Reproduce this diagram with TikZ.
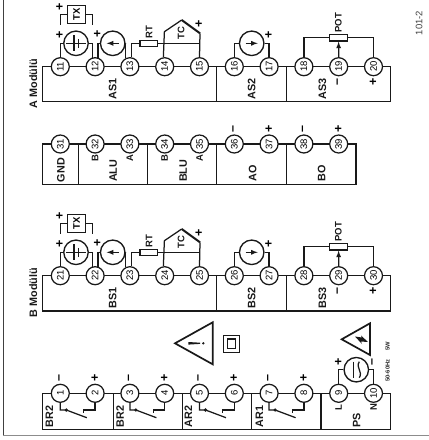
\documentclass[tikz,border=0pt]{standalone}
\usepackage{fontspec}
\setmainfont{Liberation Sans}
\usetikzlibrary{positioning}

\begin{document}
\begin{tikzpicture}[x=1pt,y=-1pt,
  wire/.style={draw=black!90,line width=1.25pt},
  term/.style={draw=black!90,line width=1.25pt,circle,fill=white,inner sep=0pt,minimum size=18pt,rotate=90,font=\fontsize{9.5}{9.5}\selectfont},
  lab/.style={rotate=90,inner sep=0pt,font=\fontsize{10.8}{10.8}\selectfont\bfseries,text=black!90},
  tiny/.style={rotate=90,inner sep=0pt,font=\fontsize{9.5}{9.5}\selectfont\bfseries,text=black!90},
  sign/.style={rotate=90,inner sep=0pt,font=\fontsize{12.5}{12.5}\selectfont\bfseries,text=black},
  part/.style={draw=black!90,line width=1.25pt,fill=white,rectangle,inner sep=0pt},
  src/.style={draw=black!90,line width=1.35pt,circle,fill=white,inner sep=0pt,minimum size=24.5pt}]
\useasboundingbox (0,0) rectangle (429,440);
% frame
\draw[black!75,line width=.9pt] (3.7,0) -- (3.7,435.7);
\draw[black!45,line width=1.3pt] (3.3,435.7) -- (429,435.7);
\node[rotate=90,inner sep=0pt,font=\fontsize{9.5}{9.5}\selectfont,text=black!75] (code) at (419,23) {101-2};

% boxes
\foreach \xa/\xb/\ya/\yb in {42.7/216.5/66.7/101.7,216.5/286.3/66.7/101.7,286.3/390.7/66.7/101.7,
  42.7/78.3/144/184.3,78.3/147.7/144/184.3,147.7/216.5/144/184.3,216.5/286.3/144/184.3,286.3/356/144/184.3,
  42.7/216.5/275.7/311,216.5/286.3/275.7/311,286.3/390.7/275.7/311,
  42.7/113.3/393.3/429.3,113.3/182.3/393.3/429.3,182.3/251.7/393.3/429.3,251.7/321/393.3/429.3,321/390.7/393.3/429.3} {
  \draw[wire] (\xa,\ya) rectangle (\xb,\yb);
}
% terminals
\foreach \m/\f/\y/\k in {A/11/66.7/10,C/31/144/9,B/21/275.7/10,P/1/393.3/10} {
  \foreach \i in {1,...,\k} {
    \pgfmathtruncatemacro\n{\f+\i-1}
    \node[term] (\m\i) at (25.5+34.8*\i,\y) {\n};
  }
}
% box labels
\foreach \t/\x/\y in {AS1/112.7/89,AS2/251.7/89,AS3/322.3/89,GND/61/170,ALU/113.3/170.7,BLU/183.3/170.7,AO/252.7/173,BO/321.7/173,
  BS1/112.7/298,BS2/251.7/298,BS3/322.3/298,BR2/49.3/416.7,BR2/120/416.7,AR2/188.3/416.7,AR1/259.3/416.7,PS/356.7/420} {
  \node[lab] (L\t\x) at (\x,\y) {\t};
}
\node[lab] (modA) at (33.3,83.7) {A Modülü};
\node[lab] (modB) at (33.3,292.7) {B Modülü};
\foreach \t/\s/\e in {B/C2/-14,A/C3/-14,B/C4/-14,A/C5/-14,L/P9/-14,N/P10/-14} {
  \node[tiny] (L\s) at ([yshift=\e]\s.center) {\t};
}
% signs
\foreach \t/\s/\e in {–/C6/15,+/C7/15,–/C8/15,+/C9/15,–/P1/15,+/P2/15,–/P3/15,+/P4/15,–/P5/15,+/P6/15,–/P7/15,+/P8/15,
  –/A9/-15,+/A10/-15,–/B9/-15,+/B10/-15} {
  \node[sign] (S\s) at ([yshift=\e]\s.center) {\t};
}

% inputs of both modules
\foreach \m/\d in {A/0,B/209} {
  \begin{scope}[yshift=-\d pt]
    \node[part,rotate=90,minimum width=17.6pt,minimum height=18pt,font=\fontsize{9.5}{9.5}\selectfont\bfseries] (\m Tx) at (76.7,14.5) {TX};
    \node[src] (\m Bat) at (76,43.3) {};
    \node[src] (\m Cur) at (112.7,43.3) {};
    \node[part,minimum width=17.7pt,minimum height=6pt] (\m Rt) at (148.8,43.7) {};
    \node[src] (\m Out) at (251.7,43.3) {};
    \node[part,minimum width=18.4pt,minimum height=6.7pt] (\m Pot) at (338.6,37.7) {};
    \coordinate (\m TxL) at (60.3,25);
    \coordinate (\m TxR) at (92.3,25);
    \coordinate (\m TcA) at (164.4,31.7);
    \coordinate (\m TcP) at (181.7,20);
    \coordinate (\m TcB) at (200,33.3);
    \draw[wire] (\m Tx.north) -| (\m TxL);
    \draw[wire] (\m Tx.south) -| (\m TxR);
    \draw[wire] (\m Bat.west) -| (\m1.0);
    \draw[wire] (\m Bat.east) -| (\m2.17);
    \draw[wire] (\m Cur.west) -| (\m2.-17);
    \draw[wire] (\m Cur.east) -| (\m3.26);
    \draw[wire] (\m Rt.west) -| (\m3.-10);
    \draw[wire] (\m Rt.east) -| (\m5.0);
    \draw[wire] (\m4.8) -- (\m TcA) -- (\m TcP);
    \draw[wire,line width=2pt] (\m TcP) -- (\m TcB);
    \draw[wire] (\m TcB) -- (\m5.0);
    \draw[wire] (\m Out.west) -| (\m6.0);
    \draw[wire] (\m Out.east) -| (\m7.0);
    \draw[wire] (\m Pot.west) -| (\m8.0);
    \draw[wire] (\m Pot.east) -| (\m10.0);
    \draw[wire,-latex] (\m9) -- (\m Pot.south);
    % inside the sources
    \draw[wire] (66,43.3) -- (86,43.3);
    \draw[wire] (74,35.3) -- (74,51.3);
    \draw[wire] (78.5,38.8) -- (78.5,47.8);
    \draw[wire,-latex] (118.7,43.3) -- (106.7,43.3);
    \draw[wire,-latex] (245.7,43.3) -- (257.7,43.3);
    % names and polarity
    \node[tiny] (\m RtL) at (149,32) {RT};
    \node[tiny] (\m TcL) at (181,33) {TC};
    \node[tiny] (\m PotL) at (338.3,22.7) {POT};
    \foreach \x/\y in {60/7,60/35,97.7/34.3,199.3/24,269/35} {
      \node[sign] (\m plus\x\y) at (\x,\y) {+};
    }
  \end{scope}
}

% relay outputs
\foreach \a/\b/\xa/\xb in {1/2/60.3/95.1,3/4/129.9/164.7,5/6/199.5/234.3,7/8/269.1/303.9} {
  \coordinate (Hng\a) at (\xa+6,410);
  \coordinate (Bld\a) at (\xa+26.5,417.7);
  \coordinate (Fix\b) at (\xb-11.5,410);
  \coordinate (Stb\b) at (\xb-11.5,413);
  \draw[wire] (P\a.180) |- (Hng\a) -- (Bld\a);
  \fill[black!90] (Hng\a) circle (1.8);
  \draw[wire] (P\b.180) |- (Fix\b) -- (Stb\b);
}

% supply
\node[src] (Mains) at (356.3,369.7) {};
\draw[wire] (Mains.west) -| (P9.0);
\draw[wire] (Mains.east) -| (P10.0);
\draw[wire] (353.8,361.7) -- (353.8,377.7);
\draw[wire] (359.3,361.7) .. controls (355.3,367.7) and (363.3,371.7) .. (359.3,377.7);
\node[sign] (plusP) at (338.7,361.7) {+};
\node[sign] (minusP) at (373.3,361.7) {–};
\node[rotate=90,inner sep=0pt,font=\fontsize{5.8}{5.8}\selectfont\bfseries,text=black!85] (rate) at (387.7,370.5) {50-60Hz};
\node[rotate=90,inner sep=0pt,font=\fontsize{5.8}{5.8}\selectfont\bfseries,text=black!85] (power) at (387.7,346.3) {5W};

% warnings
\draw[wire,line width=1.7pt,line join=miter] (175,343.3) -- (212.7,322.3) -- (212.7,364.3) -- cycle;
\fill[black!90] (188.3,342) -- (188.3,344.6) -- (200,343.9) -- (200,342.7) -- cycle;
\fill[black!90] (203.3,343.3) circle (1.3);
\draw[wire,line width=1pt] (223.3,335.7) rectangle (239.3,352.3);
\draw[wire,line width=1.3pt] (227.3,339) rectangle (235.7,348.3);
\draw[wire,line width=1.7pt,line join=miter] (341.7,339.3) -- (370,323.3) -- (370,355) -- cycle;
\fill[black!90] (355,336.5) -- (362,337.5) -- (361,335.5) -- (368,342) -- (361,341.5) -- (362,344) -- cycle;
\end{tikzpicture}
\end{document}
